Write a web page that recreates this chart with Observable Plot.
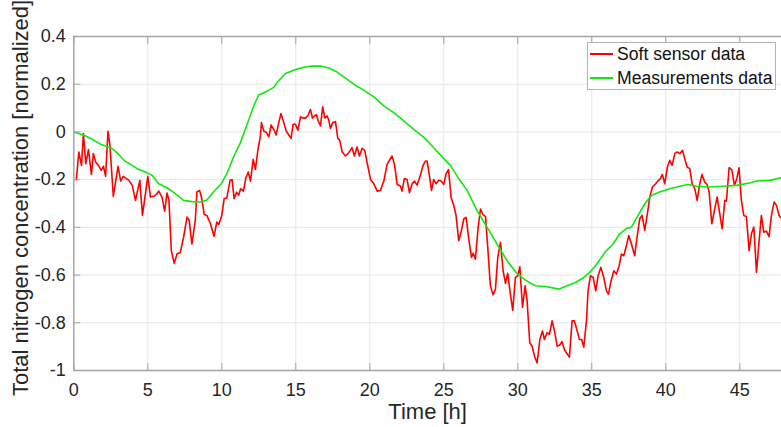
<!DOCTYPE html>
<html><head><meta charset="utf-8">
<script src="https://cdn.jsdelivr.net/npm/d3@7"></script>
<script src="https://cdn.jsdelivr.net/npm/@observablehq/plot@0.6"></script>
<style>
body{margin:0;background:#fff;}
#wrap{position:relative;width:781px;height:427px;overflow:hidden;font-family:"Liberation Sans",Arial,sans-serif;}
#legend{position:absolute;left:587px;top:42px;width:189px;height:48px;border:1px solid #b3b3b3;background:#fff;box-sizing:border-box;}
.row{position:absolute;left:2px;height:20px;line-height:20px;display:flex;align-items:center;font-size:17.6px;color:#111;white-space:nowrap;}
.sw{display:inline-block;width:23px;height:2px;margin-right:4px;}
</style></head>
<body><div id="wrap"></div>
<script>
const seriesNames = ["Soft sensor data", "Measurements data"];
const seriesColors = ["#ff0000", "#10e810"];
const xLabel = "Time [h]";
const yLabel = "Total nitrogen concentration [normalized]";
const xTicks = [0, 5, 10, 15, 20, 25, 30, 35, 40, 45];
const yTicks = [-1, -0.8, -0.6, -0.4, -0.2, 0, 0.2, 0.4];

const softTime = [0.17,0.34,0.52,0.65,0.81,0.99,1.19,1.32,1.48,1.70,1.86,2.00,2.15,2.31,2.44,2.67,2.99,3.17,3.34,3.72,3.95,4.17,4.46,4.64,5.00,5.18,5.40,5.58,5.74,5.96,6.14,6.30,6.43,6.59,6.79,6.97,7.20,7.42,7.65,7.80,7.98,8.21,8.32,8.50,8.65,8.81,8.99,9.22,9.48,9.66,9.80,10.00,10.16,10.34,10.56,10.70,10.83,11.00,11.14,11.27,11.46,11.63,11.79,11.94,12.12,12.27,12.43,12.61,12.68,12.84,13.02,13.18,13.33,13.51,13.67,13.85,14.00,14.19,14.35,14.53,14.68,14.82,14.98,15.14,15.32,15.50,15.65,15.81,15.99,16.13,16.26,16.40,16.50,16.67,16.82,16.96,17.12,17.23,17.34,17.50,17.68,17.84,17.97,18.13,18.36,18.58,18.80,18.96,19.14,19.30,19.48,19.66,19.82,20.05,20.27,20.50,20.72,20.95,21.17,21.50,21.67,21.85,22.07,22.18,22.34,22.52,22.68,22.86,23.02,23.20,23.42,23.60,23.76,23.87,24.03,24.17,24.32,24.48,24.66,24.82,25.00,25.16,25.32,25.50,25.68,25.83,26.01,26.19,26.35,26.51,26.69,26.87,26.98,27.14,27.32,27.48,27.64,27.82,27.97,28.15,28.33,28.49,28.65,28.83,29.01,29.17,29.32,29.50,29.66,29.84,30.00,30.14,30.32,30.50,30.63,30.81,30.97,31.13,31.31,31.49,31.67,31.80,31.98,32.14,32.32,32.48,32.66,32.84,32.99,33.15,33.33,33.49,33.67,33.83,34.00,34.17,34.32,34.46,34.64,34.75,34.91,35.09,35.27,35.43,35.61,35.81,35.99,36.13,36.28,36.49,36.67,36.85,37.00,37.16,37.34,37.50,37.68,37.90,38.06,38.24,38.40,38.58,38.74,38.92,39.10,39.28,39.46,39.64,39.77,39.93,40.11,40.27,40.43,40.61,40.77,40.95,41.13,41.28,41.44,41.62,41.78,41.96,42.12,42.30,42.45,42.63,42.79,42.93,43.11,43.29,43.47,43.65,43.81,43.99,44.10,44.28,44.46,44.64,44.80,44.95,45.11,45.27,45.45,45.63,45.79,45.95,46.13,46.31,46.46,46.62,46.80,46.98,47.14,47.32,47.48,47.66,47.77];
const softValue = [-0.20,-0.084,-0.14,-0.007,-0.133,-0.074,-0.178,-0.091,-0.126,-0.144,-0.161,-0.144,-0.186,0.003,-0.056,-0.27,-0.144,-0.206,-0.186,-0.203,-0.224,-0.287,-0.203,-0.35,-0.186,-0.273,-0.27,-0.262,-0.248,-0.273,-0.332,-0.256,-0.287,-0.498,-0.551,-0.512,-0.505,-0.441,-0.357,-0.371,-0.47,-0.371,-0.252,-0.245,-0.28,-0.346,-0.35,-0.383,-0.437,-0.378,-0.388,-0.35,-0.28,-0.276,-0.203,-0.2,-0.28,-0.252,-0.266,-0.238,-0.248,-0.192,-0.168,-0.206,-0.115,-0.157,-0.08,-0.017,0.039,0.004,-0.003,-0.021,0.029,0.011,-0.013,0.039,0.077,0.039,0.004,-0.013,-0.027,0.032,0.032,0.007,0.063,0.058,0.058,0.067,0.094,0.058,0.067,0.072,0.049,0.025,0.105,0.058,0.067,0.049,0.015,0.039,0.043,-0.027,-0.035,-0.083,-0.101,-0.087,-0.066,-0.101,-0.063,-0.101,-0.069,-0.077,-0.129,-0.199,-0.217,-0.248,-0.245,-0.206,-0.136,-0.101,-0.136,-0.22,-0.227,-0.248,-0.195,-0.199,-0.255,-0.217,-0.206,-0.223,-0.182,-0.14,-0.122,-0.122,-0.182,-0.245,-0.2,-0.217,-0.203,-0.206,-0.22,-0.175,-0.158,-0.276,-0.309,-0.351,-0.456,-0.414,-0.365,-0.358,-0.449,-0.526,-0.509,-0.533,-0.4,-0.323,-0.346,-0.355,-0.484,-0.645,-0.683,-0.659,-0.526,-0.463,-0.582,-0.635,-0.593,-0.68,-0.748,-0.61,-0.603,-0.565,-0.736,-0.645,-0.708,-0.884,-0.898,-0.94,-0.968,-0.87,-0.834,-0.87,-0.842,-0.848,-0.792,-0.834,-0.898,-0.893,-0.879,-0.912,-0.93,-0.944,-0.792,-0.792,-0.832,-0.87,-0.87,-0.902,-0.792,-0.666,-0.603,-0.61,-0.666,-0.603,-0.568,-0.61,-0.666,-0.68,-0.631,-0.582,-0.596,-0.561,-0.512,-0.519,-0.477,-0.434,-0.47,-0.519,-0.441,-0.364,-0.35,-0.413,-0.35,-0.273,-0.231,-0.22,-0.206,-0.196,-0.178,-0.217,-0.147,-0.119,-0.14,-0.091,-0.084,-0.091,-0.077,-0.112,-0.147,-0.154,-0.217,-0.238,-0.287,-0.217,-0.178,-0.21,-0.22,-0.252,-0.385,-0.329,-0.273,-0.343,-0.406,-0.287,-0.29,-0.15,-0.159,-0.224,-0.196,-0.15,-0.287,-0.35,-0.355,-0.498,-0.427,-0.399,-0.589,-0.455,-0.35,-0.42,-0.416,-0.439,-0.35,-0.294,-0.308,-0.35,-0.36];

const measTime = [0,0.7,1.26,1.82,2.49,2.94,3.39,3.83,4.28,4.84,5.29,5.74,6.3,6.86,7.42,7.98,8.54,8.99,9.44,10,10.34,10.79,11.23,11.71,12.16,12.5,12.84,13.18,13.51,13.85,14.3,14.86,15.54,16.1,16.67,17.23,17.79,18.24,18.92,19.59,20.27,20.95,21.62,22.3,22.97,23.76,24.32,25,25.45,26.01,26.58,27.25,27.93,28.6,29.28,29.95,30.52,31.19,31.98,32.77,33.33,33.9,34.46,34.86,35.32,35.88,36.44,36.89,37.34,37.68,38.13,38.58,39.03,39.59,40.27,40.95,41.51,42.07,42.97,43.87,44.77,45.68,46.13,47.03,47.77];
const measValue = [0,-0.014,-0.032,-0.052,-0.066,-0.088,-0.119,-0.136,-0.154,-0.168,-0.182,-0.217,-0.234,-0.259,-0.287,-0.292,-0.294,-0.285,-0.252,-0.214,-0.175,-0.105,-0.049,0.032,0.109,0.156,0.164,0.175,0.187,0.215,0.245,0.259,0.271,0.276,0.276,0.268,0.251,0.231,0.2,0.175,0.147,0.109,0.081,0.046,0.011,-0.028,-0.066,-0.112,-0.14,-0.196,-0.245,-0.33,-0.4,-0.47,-0.54,-0.593,-0.621,-0.645,-0.649,-0.659,-0.645,-0.631,-0.61,-0.589,-0.556,-0.505,-0.47,-0.427,-0.405,-0.399,-0.35,-0.301,-0.266,-0.252,-0.238,-0.228,-0.22,-0.228,-0.231,-0.228,-0.224,-0.214,-0.206,-0.203,-0.192];

const soft = softTime.map((t, i) => ({t, v: softValue[i]}));
const meas = measTime.map((t, i) => ({t, v: measValue[i]}));
const axisColor = "#a3a3a3";
const textColor = "#262626";
const fmtY = d => String(+d.toFixed(1));

const chart = Plot.plot({
  width: 781, height: 427,
  marginTop: 36, marginBottom: 57, marginLeft: 73.3, marginRight: 0,
  style: {fontFamily: '"Liberation Sans", Arial, sans-serif', fontSize: "18px", color: textColor, background: "#fff"},
  x: {domain: [0, 47.82]},
  y: {domain: [-1, 0.4]},
  marks: [
    Plot.gridX(xTicks, {stroke: "#e6e6e6", strokeOpacity: 1, strokeWidth: 1}),
    Plot.gridY(yTicks, {stroke: "#e6e6e6", strokeOpacity: 1, strokeWidth: 1}),
    Plot.line(soft, {x: "t", y: "v", stroke: seriesColors[0], strokeWidth: 1.6}),
    Plot.line(meas, {x: "t", y: "v", stroke: seriesColors[1], strokeWidth: 1.6}),
    Plot.ruleX([0], {stroke: axisColor, strokeWidth: 1.4}),
    Plot.ruleY([-1, 0.4], {stroke: axisColor, strokeWidth: 1.4}),
    Plot.axisX(xTicks, {anchor: "bottom", tickSize: -7, tickPadding: 20, label: null, stroke: axisColor, fill: textColor}),
    Plot.axisX(xTicks, {anchor: "top", tickSize: -7, tickFormat: () => "", label: null, stroke: axisColor}),
    Plot.axisY(yTicks, {anchor: "left", tickSize: -7, tickPadding: 15, tickFormat: fmtY, label: null, stroke: axisColor, fill: textColor}),
    Plot.text([xLabel], {text: d => d, frameAnchor: "bottom", dy: 48, lineAnchor: "bottom", textAnchor: "middle", fontSize: 22, fill: textColor}),
    Plot.text([yLabel], {text: d => d, frameAnchor: "left", rotate: -90, dx: -46.3, dy: -5.5, lineAnchor: "bottom", textAnchor: "middle", fontSize: 22, fill: textColor})
  ]
});

const wrap = document.getElementById("wrap");
wrap.appendChild(chart);
const legend = document.createElement("div");
legend.id = "legend";
seriesNames.forEach((name, i) => {
  const row = document.createElement("div");
  row.className = "row";
  row.style.top = (i === 0 ? 1.3 : 24.7) + "px";
  const sw = document.createElement("span");
  sw.className = "sw";
  sw.style.background = seriesColors[i];
  const label = document.createElement("span");
  label.textContent = name;
  row.appendChild(sw);
  row.appendChild(label);
  legend.appendChild(row);
});
wrap.appendChild(legend);
</script>
</body></html>
